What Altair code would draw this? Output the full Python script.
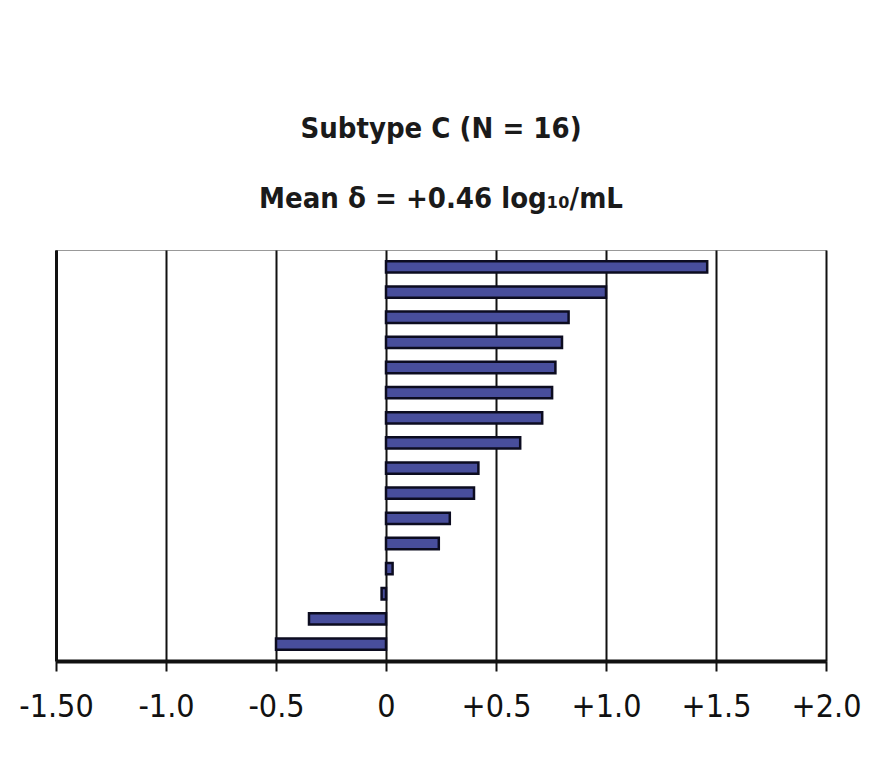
import altair as alt
import pandas as pd

# ---- data ----
subjects = list(range(1, 17))
delta = [1.46, 1.00, 0.83, 0.80, 0.77, 0.755, 0.71, 0.61,
         0.42, 0.40, 0.29, 0.24, 0.03, -0.02, -0.35, -0.50]
tick_values = [-1.5, -1.0, -0.5, 0.0, 0.5, 1.0, 1.5, 2.0]
tick_labels = ["-1.50", "-1.0", "-0.5", "0", "+0.5", "+1.0", "+1.5", "+2.0"]
title_lines = ["Subtype C (N = 16)", "Mean δ = +0.46 log₁₀/mL"]

df = pd.DataFrame({"subject": subjects, "delta": delta})

label_expr = " : ".join(
    f"datum.value == {v} ? '{l}'" for v, l in zip(tick_values, tick_labels)
) + " : ''"

FONT = "DejaVu Sans Condensed, Liberation Sans, sans-serif"

bars = alt.Chart(df).mark_bar(
    fill="#484e9c", stroke="#0c0c20", strokeWidth=2.5
).encode(
    x=alt.X(
        "delta:Q",
        scale=alt.Scale(domain=[-1.5, 2.0], nice=False, zero=True),
        axis=alt.Axis(
            values=tick_values, labelExpr=label_expr, title=None,
            grid=True, gridColor="#111111", gridWidth=2,
            domainColor="#111111", domainWidth=4,
            tickColor="#111111", tickWidth=2, tickSize=10,
            labelFont=FONT, labelFontSize=32, labelColor="#111111",
            labelPadding=20, labelFlush=False, labelOverlap=False,
        ),
    ),
    y=alt.Y(
        "subject:O",
        scale=alt.Scale(paddingInner=0.55, paddingOuter=0.45),
        axis=alt.Axis(labels=False, ticks=False, title=None, grid=False,
                      domain=True, domainColor="#111111", domainWidth=3),
    ),
)

chart = bars.properties(
    width=770,
    height=411,
    padding={"left": 48, "top": 242, "right": 44, "bottom": 108},
    autosize=alt.AutoSizeParams(type="none"),
    title=alt.TitleParams(
        text=title_lines, font=FONT, fontSize=29, fontWeight="bold",
        color="#1a1a1a", anchor="middle", lineHeight=70, offset=36,
    ),
).configure_view(stroke="#999999", strokeWidth=1)

chart.save("out.html", embed_options={"renderer": "svg", "actions": False})
